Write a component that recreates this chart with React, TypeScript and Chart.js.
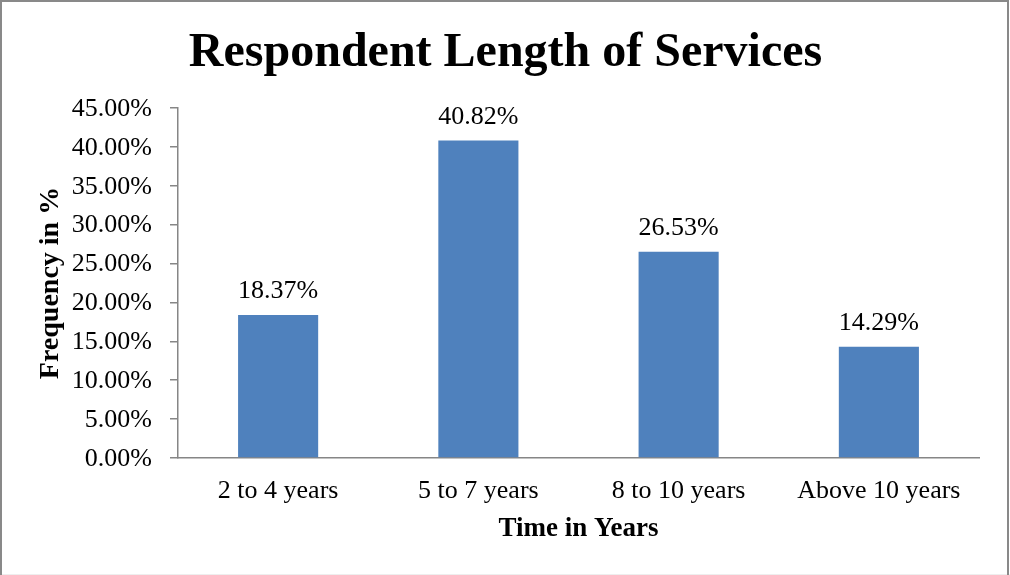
import React, { useEffect, useRef } from "react";
import { Chart, registerables } from "chart.js";

Chart.register(...registerables);

const titleText = "Respondent Length of Services";
const categories = ["2 to 4 years", "5 to 7 years", "8 to 10 years", "Above 10 years"];
const values = [18.37, 40.82, 26.53, 14.29];
const yMin = 0;
const yMax = 45;
const yStep = 5;
const xTitle = "Time in Years";
const yTitle = "Frequency in %";

const FONT = "'Liberation Serif', 'Times New Roman', serif";
const AXIS = "#868686";
const BAR = "#4F81BD";

const framePlugin = {
  id: "frame",
  beforeDraw(chart: any) {
    const { ctx, width, height } = chart;
    ctx.save();
    ctx.fillStyle = "#ffffff";
    ctx.fillRect(0, 0, width, height);
    ctx.strokeStyle = "#eeeeee";
    ctx.lineWidth = 1;
    ctx.beginPath();
    ctx.moveTo(0, height - 0.5);
    ctx.lineTo(width, height - 0.5);
    ctx.stroke();
    ctx.strokeStyle = "#898989";
    ctx.lineWidth = 2;
    ctx.strokeRect(1, 1, width - 3, height + 10);
    ctx.font = `bold 48px ${FONT}`;
    ctx.fillStyle = "#000000";
    ctx.textAlign = "center";
    ctx.textBaseline = "alphabetic";
    ctx.fillText(titleText, width / 2 + 0.5, 66);
    ctx.restore();
  },
};

const valueLabels = {
  id: "valueLabels",
  afterDatasetsDraw(chart: any) {
    const { ctx } = chart;
    const meta = chart.getDatasetMeta(0);
    ctx.save();
    ctx.font = `26px ${FONT}`;
    ctx.fillStyle = "#000000";
    ctx.textAlign = "center";
    ctx.textBaseline = "alphabetic";
    meta.data.forEach((bar: any, i: number) => {
      const v = chart.data.datasets[0].data[i] as number;
      ctx.fillText(`${v.toFixed(2)}%`, bar.x, bar.y - 17);
    });
    ctx.restore();
  },
};

export default function App() {
  const ref = useRef<HTMLCanvasElement>(null);
  useEffect(() => {
    if (!ref.current) return;
    const chart = new Chart(ref.current, {
      type: "bar",
      data: {
        labels: categories,
        datasets: [
          {
            data: values,
            backgroundColor: BAR,
            borderWidth: 0,
            barPercentage: 0.8,
            categoryPercentage: 0.5,
          },
        ],
      },
      options: {
        responsive: false,
        animation: false,
        devicePixelRatio: 1,
        layout: { padding: { left: 0, right: 31, top: 108, bottom: 0 } },
        plugins: {
          legend: { display: false },
          tooltip: { enabled: false },
          title: { display: false },
        },
        scales: {
          x: {
            afterFit(scale: any) {
              scale.height = 117;
            },
            grid: { display: false, drawTicks: false, drawOnChartArea: false },
            border: { display: true, color: AXIS, width: 1.5 },
            ticks: {
              color: "#000000",
              padding: 18,
              font: { family: FONT, size: 26, lineHeight: 1.2 },
              maxRotation: 0,
              autoSkip: false,
            },
            title: {
              display: true,
              text: xTitle,
              color: "#000000",
              font: { family: FONT, size: 27, weight: "bold", lineHeight: 1.2 },
              padding: { top: 0, bottom: 30 },
            },
          },
          y: {
            min: yMin,
            max: yMax,
            afterFit(scale: any) {
              scale.width = 178;
            },
            grid: {
              display: true,
              drawOnChartArea: false,
              drawTicks: true,
              tickLength: 8,
              color: AXIS,
              lineWidth: 1.5,
            },
            border: { display: true, color: AXIS, width: 1.5 },
            ticks: {
              stepSize: yStep,
              color: "#000000",
              padding: 18,
              labelOffset: 1,
              font: { family: FONT, size: 26, lineHeight: 1.2 },
              callback: (v: any) => `${Number(v).toFixed(2)}%`,
            },
            title: {
              display: true,
              text: yTitle,
              color: "#000000",
              font: { family: FONT, size: 28, weight: "bold", lineHeight: 1.2 },
              padding: { top: 34, bottom: 0 },
            },
          },
        },
      },
      plugins: [framePlugin, valueLabels],
    });
    return () => chart.destroy();
  }, []);
  return (
    <div style={{ position: "absolute", left: 0, top: 0, width: 1010, height: 575 }}>
      <canvas ref={ref} width={1010} height={575} style={{ width: 1010, height: 575, display: "block" }} />
    </div>
  );
}
